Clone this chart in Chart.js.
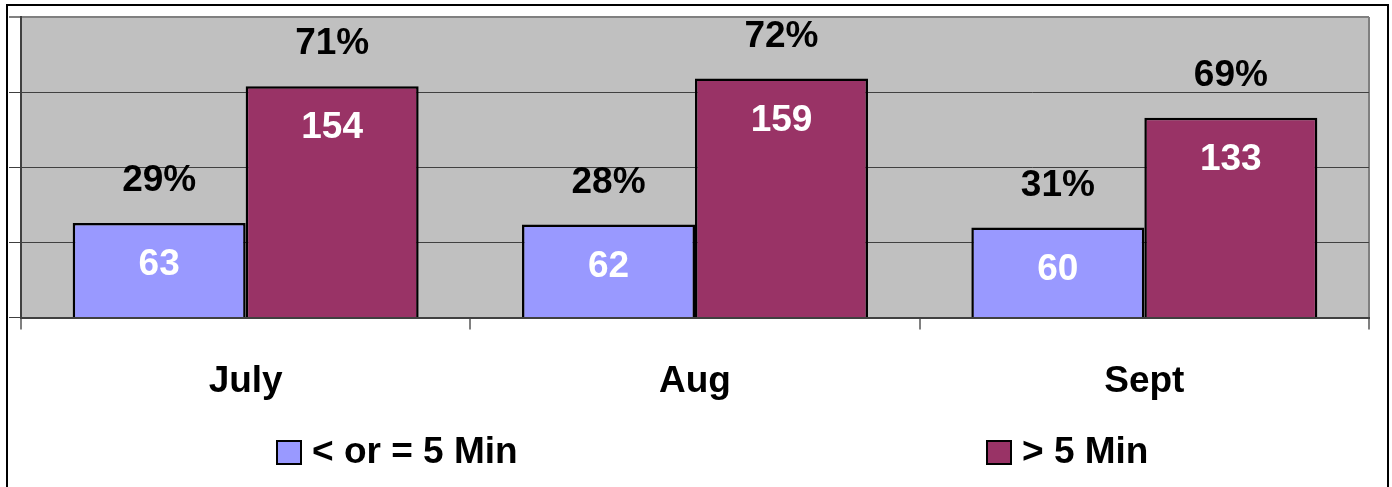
<!DOCTYPE html>
<html>
<head>
<meta charset="utf-8">
<script src="https://cdn.jsdelivr.net/npm/chart.js@4/dist/chart.umd.min.js"></script>
<style>
  body { margin: 0; background: #fff; }
  #wrap { width: 1392px; height: 487px; }
</style>
</head>
<body>
<div id="wrap"><canvas id="waitChart"></canvas></div>
<script>
const months = ['July', 'Aug', 'Sept']
const underFive = [63, 62, 60]
const overFive = [154, 159, 133]
const underFivePct = ['29%', '28%', '31%']
const overFivePct = ['71%', '72%', '69%']

const FONT = "'Liberation Sans', Arial, sans-serif"
const SIZE = 37

// grey plot area, frame round the picture, right edge of plot
const frame = {
  id: 'frame',
  beforeDraw(chart) {
    const { ctx, chartArea: a } = chart
    ctx.save()
    ctx.fillStyle = '#c0c0c0'
    ctx.fillRect(a.left, a.top, a.right - a.left, a.bottom - a.top)
    ctx.strokeStyle = '#808080'
    ctx.lineWidth = 2
    ctx.beginPath()
    ctx.moveTo(a.right, a.top)
    ctx.lineTo(a.right, a.bottom)
    ctx.stroke()
    ctx.strokeStyle = '#000'
    ctx.lineWidth = 2
    ctx.strokeRect(7, 5, 1381, 520)
    ctx.restore()
  }
}

// value inside each bar, share above it
const barText = {
  id: 'barText',
  afterDatasetsDraw(chart) {
    const { ctx } = chart
    const pcts = [underFivePct, overFivePct]
    ctx.save()
    ctx.font = 'bold ' + SIZE + 'px ' + FONT
    ctx.textAlign = 'center'
    ctx.textBaseline = 'middle'
    chart.data.datasets.forEach((ds, i) => {
      chart.getDatasetMeta(i).data.forEach((bar, j) => {
        ctx.fillStyle = '#fff'
        ctx.fillText(ds.data[j], bar.x, bar.y + 42)
        ctx.fillStyle = '#000'
        ctx.fillText(pcts[i][j], bar.x, bar.y - 42)
      })
    })
    ctx.restore()
  }
}

// legend spread wide like the original sheet
const wideLegend = {
  id: 'wideLegend',
  afterDraw(chart) {
    const { ctx } = chart
    const xs = [277, 987]
    const y = 452
    ctx.save()
    ctx.font = 'bold ' + SIZE + 'px ' + FONT
    ctx.textBaseline = 'middle'
    ctx.textAlign = 'left'
    chart.data.datasets.forEach((ds, i) => {
      ctx.fillStyle = ds.backgroundColor
      ctx.fillRect(xs[i], y - 11, 24, 23)
      ctx.strokeStyle = '#000'
      ctx.lineWidth = 2
      ctx.strokeRect(xs[i], y - 11, 24, 23)
      ctx.fillStyle = '#000'
      ctx.fillText(ds.label, xs[i] + 35, y + 1)
    })
    ctx.restore()
  }
}

const data = {
  labels: months,
  datasets: [{
    label: '< or = 5 Min',
    data: underFive,
    backgroundColor: '#9999ff',
    borderColor: '#000',
    borderWidth: 2.5
  }, {
    label: '> 5 Min',
    data: overFive,
    backgroundColor: '#993366',
    borderColor: '#000',
    borderWidth: 2.5
  }]
}

const config = {
  type: 'bar',
  data: data,
  options: {
    responsive: true,
    maintainAspectRatio: false,
    animation: false,
    categoryPercentage: 0.77,
    barPercentage: 1.0,
    layout: { padding: { left: 9, top: 17, right: 23, bottom: 53 } },
    scales: {
      x: {
        grid: {
          drawOnChartArea: false,
          color: '#808080',
          tickLength: 12,
          lineWidth: 2
        },
        border: { color: '#404040', width: 2 },
        ticks: {
          color: '#000',
          font: { family: FONT, size: SIZE, weight: 'bold' },
          padding: 30
        }
      },
      y: {
        min: 0,
        max: 200,
        ticks: { display: false, stepSize: 50 },
        grid: {
          color: ctx => ctx.tick && ctx.tick.value === 200 ? '#808080' : '#404040',
          lineWidth: ctx => ctx.tick && ctx.tick.value === 200 ? 2 : 1,
          tickLength: 12
        },
        border: { color: '#404040', width: 2 }
      }
    },
    plugins: {
      tooltip: { enabled: false },
      legend: { display: false }
    }
  },
  plugins: [frame, barText, wideLegend]
}

const myChart = new Chart(document.getElementById('waitChart'), config)
</script>
</body>
</html>
